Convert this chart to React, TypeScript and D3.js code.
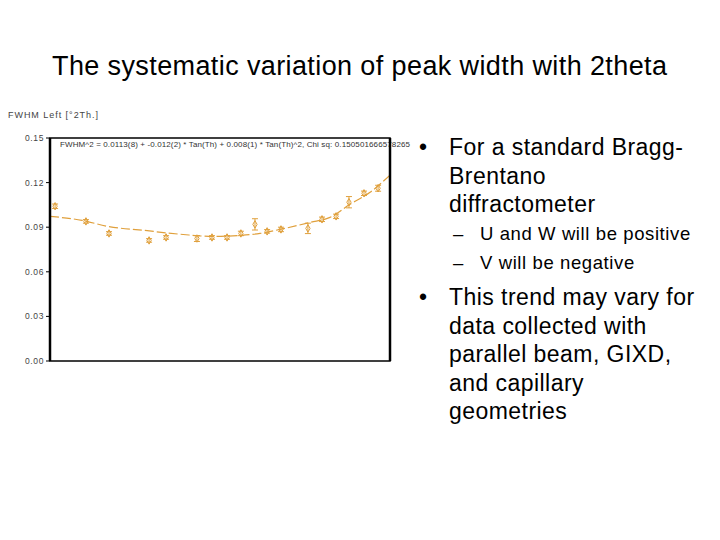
import React from "react";
import * as d3 from "d3";

// Observed peak widths (x = 2theta in degrees, y = FWHM)
const obsX = [2.1, 14.8, 24.3, 40.8, 47.8, 60.5, 66.7, 72.9, 78.6, 84.4, 89.4, 95.1, 106.2, 112.0, 117.8, 123.1, 129.3, 135.1];
const obsY = [0.1041, 0.0939, 0.0858, 0.0811, 0.0831, 0.0824, 0.0831, 0.0831, 0.0858, 0.0919, 0.0872, 0.0885, 0.0892, 0.0953, 0.0973, 0.1068, 0.1128, 0.1162];
const obsErr = [0.0015, 0.0012, 0.0012, 0.0012, 0.0012, 0.002, 0.0012, 0.0012, 0.0015, 0.0038, 0.0012, 0.0015, 0.0035, 0.0015, 0.0015, 0.0038, 0.0015, 0.002];

// Fitted curve
const fitX = [0, 13.2, 23.9, 39.1, 54.8, 67.1, 78.2, 86.5, 94.7, 107.1, 115.3, 123.5, 131.8, 140];
const fitY = [0.0973, 0.0946, 0.0905, 0.0878, 0.0851, 0.0838, 0.0845, 0.0858, 0.0885, 0.0932, 0.0966, 0.1054, 0.1135, 0.125];

const yTicks = [0.0, 0.03, 0.06, 0.09, 0.12, 0.15];
const yTickLabels = ["0.00", "0.03", "0.06", "0.09", "0.12", "0.15"];

const titleText = "The systematic variation of peak width with 2theta";
const axisTitle = "FWHM Left [°2Th.]";
const fitLabel = "FWHM^2 = 0.0113(8) + -0.012(2) * Tan(Th) + 0.008(1) * Tan(Th)^2, Chi sq: 0.150501666578265";

const bullet1 = ["For a standard Bragg-", "Brentano", "diffractometer"];
const subBullets = ["U and W will be positive", "V will be negative"];
const bullet2 = ["This trend may vary for", "data collected with", "parallel beam, GIXD,", "and capillary", "geometries"];

const ORANGE = "#e0a03c";

export default function App() {
  const left = 50, right = 390, top = 138, bottom = 361;
  const x = d3.scaleLinear().domain([0, 140]).range([left, right]);
  const y = d3.scaleLinear().domain([0, 0.15]).range([bottom, top]);

  const fitPts: [number, number][] = fitX.map((v, i) => [v, fitY[i]]);
  const line = d3
    .line<[number, number]>()
    .x((d) => x(d[0]))
    .y((d) => y(d[1]))
    .curve(d3.curveMonotoneX);

  const sym = d3.symbol().type(d3.symbolDiamond).size(16);

  const font = "'Liberation Sans', Arial, sans-serif";

  return (
    <svg
      width={720}
      height={540}
      style={{ position: "absolute", left: 0, top: 0, background: "#fff" }}
      fontFamily={font}
    >
      <rect x={0} y={0} width={720} height={540} fill="#fff" />
      <text x={52} y={75} fontSize={27} fill="#000" textLength={615} lengthAdjust="spacing">
        {titleText}
      </text>

      {/* chart */}
      <text x={8} y={118} fontSize={9} fill="#444" textLength={90} lengthAdjust="spacing">
        {axisTitle}
      </text>
      <defs>
        <clipPath id="plotclip">
          <rect x={left} y={top} width={right - left} height={bottom - top} />
        </clipPath>
      </defs>
      <text x={left + 10} y={top + 9} fontSize={8} fill="#333" textLength={350} lengthAdjust="spacing">
        {fitLabel}
      </text>
      <path
        d={line(fitPts) || ""}
        fill="none"
        stroke={ORANGE}
        strokeWidth={1.2}
        strokeDasharray="9,3"
        clipPath="url(#plotclip)"
      />
      {obsX.map((v, i) => {
        const cx = x(v);
        const cy = y(obsY[i]);
        const y1 = y(obsY[i] + obsErr[i]);
        const y2 = y(obsY[i] - obsErr[i]);
        return (
          <g key={i} stroke={ORANGE} fill="none" strokeWidth={1}>
            <line x1={cx} x2={cx} y1={y1} y2={y2} />
            <line x1={cx - 3} x2={cx + 3} y1={y1} y2={y1} />
            <line x1={cx - 3} x2={cx + 3} y1={y2} y2={y2} />
            <path d={sym() || ""} transform={`translate(${cx},${cy})`} />
          </g>
        );
      })}
      {/* frame */}
      <rect x={left} y={top} width={right - left} height={bottom - top} fill="none" stroke="#000" strokeWidth={1.5} />
      <line x1={left} x2={left} y1={top} y2={bottom} stroke="#000" strokeWidth={2.5} />
      <line x1={right} x2={right} y1={top} y2={bottom} stroke="#000" strokeWidth={2.5} />
      {yTicks.map((t, i) => (
        <g key={i}>
          <line x1={left - 4} x2={left} y1={y(t)} y2={y(t)} stroke="#000" strokeWidth={1} />
          <text x={left - 6} y={y(t) + 3} fontSize={8.5} fill="#444" textAnchor="end" letterSpacing={0.6}>
            {yTickLabels[i]}
          </text>
        </g>
      ))}

      {/* bullets */}
      <g fontSize={23} fill="#000" letterSpacing={0.45}>
        <text x={419} y={155}>•</text>
        {bullet1.map((s, i) => (
          <text key={i} x={449} y={155 + i * 28.5}>
            {s}
          </text>
        ))}
      </g>
      <g fontSize={18.5} fill="#000" letterSpacing={0.6}>
        {subBullets.map((s, i) => (
          <g key={i}>
            <text x={453} y={240 + i * 28.5}>–</text>
            <text x={480} y={240 + i * 28.5}>
              {s}
            </text>
          </g>
        ))}
      </g>
      <g fontSize={23} fill="#000" letterSpacing={0.45}>
        <text x={419} y={305}>•</text>
        {bullet2.map((s, i) => (
          <text key={i} x={449} y={305 + i * 28.5}>
            {s}
          </text>
        ))}
      </g>
    </svg>
  );
}
